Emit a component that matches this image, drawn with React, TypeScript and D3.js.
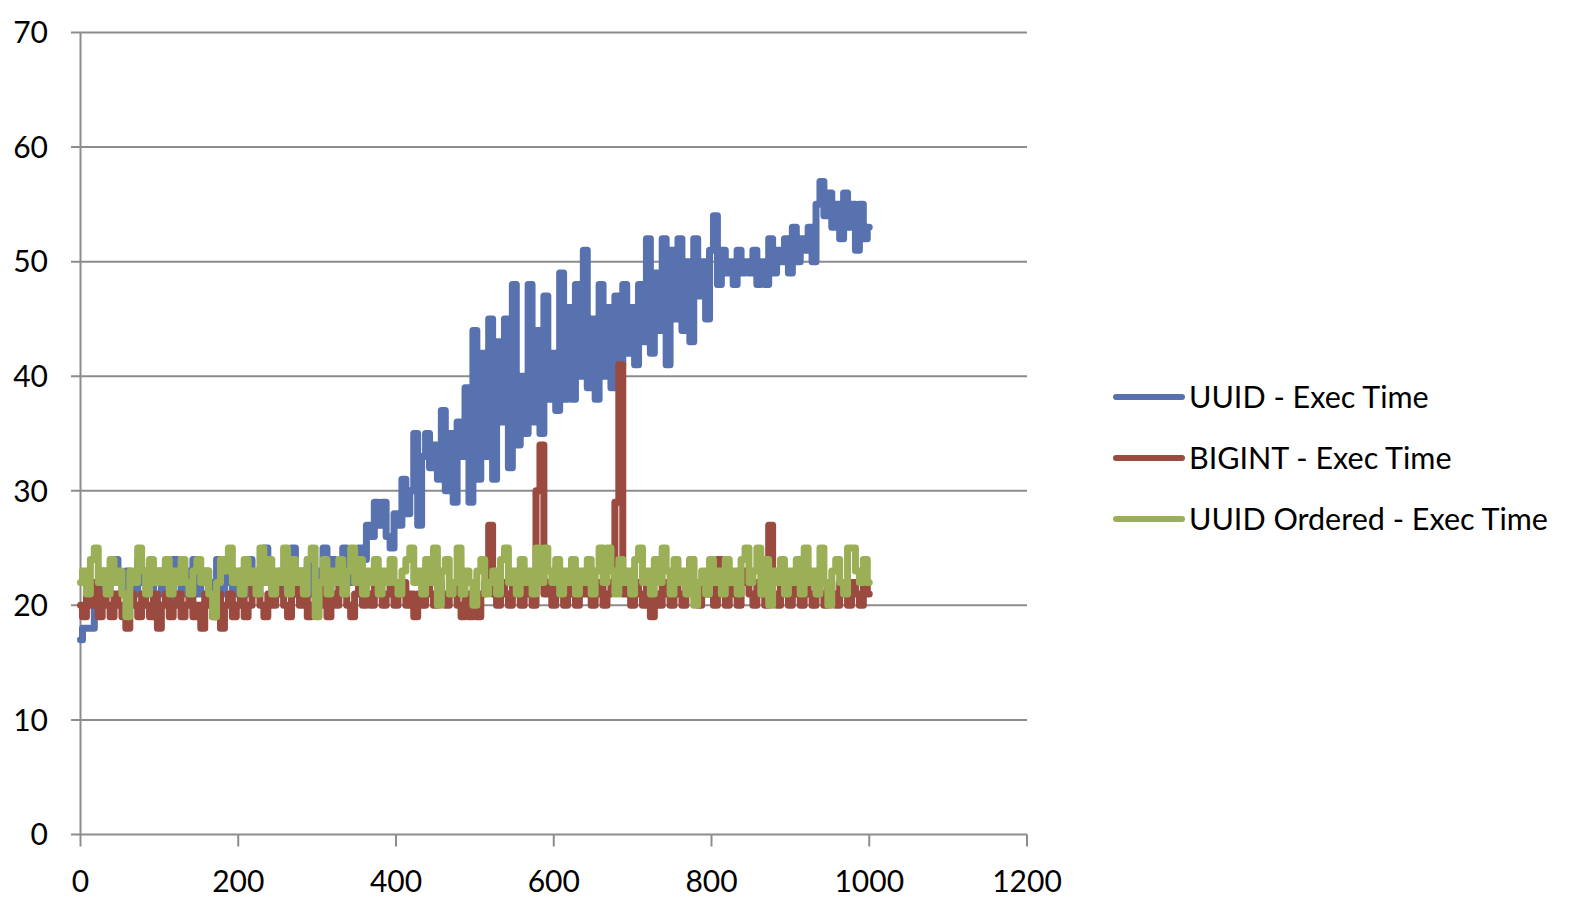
import React from 'react';
import * as d3 from 'd3';

const STEP = 5;

const uuidExec = [
  17, 18, 18, 18, 20, 21, 23, 21, 22, 24, 22, 21, 23, 22, 21, 24, 22, 23, 21, 22,
  23, 21, 22, 20, 24, 22, 21, 23, 22, 24, 21, 22, 23, 21, 22, 24, 21, 23, 22, 21,
  22, 23, 21, 24, 22, 21, 23, 25, 22, 21, 22, 23, 21, 22, 25, 21, 23, 22, 24, 21,
  22, 23, 25, 21, 24, 22, 23, 25, 23, 22, 24, 25, 24, 27, 26, 29, 27, 29, 26, 25,
  28, 27, 31, 28, 30, 35, 27, 33, 35, 32, 34, 31, 37, 30, 35, 29, 36, 33, 39, 29,
  44, 31, 42, 33, 45, 31, 43, 36, 45, 32, 48, 34, 40, 35, 48, 36, 44, 35, 47, 38,
  42, 37, 49, 38, 46, 38, 48, 40, 51, 39, 45, 38, 48, 40, 46, 39, 47, 41, 48, 42,
  46, 41, 48, 43, 52, 42, 49, 44, 52, 41, 51, 45, 52, 44, 50, 43, 52, 47, 50, 45,
  51, 54, 48, 51, 49, 50, 48, 51, 49, 50, 49, 51, 48, 50, 48, 52, 49, 51, 50, 52,
  49, 53, 50, 52, 51, 53, 50, 55, 57, 54, 56, 53, 55, 52, 56, 53, 55, 51, 55, 52,
  53,
];

const bigintExec = [
  20, 19, 21, 20, 22, 19, 21, 20, 19, 21, 20, 19, 18, 21, 20, 19, 21, 20, 19, 21,
  18, 20, 21, 19, 20, 21, 19, 20, 21, 19, 20, 18, 21, 20, 19, 21, 18, 20, 21, 19,
  20, 21, 19, 20, 22, 21, 20, 19, 21, 20, 22, 21, 20, 19, 21, 22, 20, 21, 19, 20,
  21, 20, 22, 19, 21, 20, 22, 21, 20, 19, 21, 22, 20, 21, 20, 22, 21, 20, 21, 22,
  20, 21, 22, 20, 21, 19, 21, 20, 22, 21, 20, 22, 21, 20, 21, 22, 20, 19, 21, 19,
  20, 19, 21, 22, 27, 21, 20, 22, 21, 20, 22, 21, 20, 22, 21, 20, 30, 34, 21, 22,
  20, 22, 21, 20, 22, 21, 20, 22, 21, 22, 20, 21, 22, 20, 21, 22, 29, 41, 21, 22,
  20, 22, 21, 20, 22, 19, 21, 20, 22, 21, 20, 22, 21, 20, 22, 24, 21, 20, 22, 21,
  22, 20, 24, 21, 20, 22, 21, 20, 22, 23, 21, 20, 22, 21, 20, 27, 21, 20, 22, 21,
  20, 22, 21, 20, 22, 21, 20, 22, 21, 20, 22, 21, 20, 22, 21, 20, 22, 21, 20, 22,
  21,
];

const uuidOrderedExec = [
  22, 23, 21, 24, 25, 22, 23, 21, 24, 22, 23, 21, 19, 23, 22, 25, 23, 21, 24, 22,
  23, 22, 24, 21, 23, 22, 24, 22, 21, 23, 24, 22, 23, 21, 19, 22, 24, 23, 25, 22,
  23, 21, 24, 22, 23, 21, 25, 22, 24, 21, 23, 22, 25, 21, 24, 22, 23, 21, 24, 25,
  19, 22, 24, 21, 23, 22, 24, 21, 23, 25, 22, 24, 21, 23, 22, 24, 21, 23, 22, 24,
  22, 21, 23, 24, 25, 22, 23, 21, 24, 22, 25, 20, 23, 24, 21, 22, 25, 21, 23, 22,
  20, 23, 24, 21, 22, 23, 21, 24, 25, 22, 23, 21, 24, 22, 23, 21, 25, 22, 25, 23,
  22, 24, 21, 23, 22, 24, 21, 23, 22, 24, 21, 23, 25, 22, 25, 23, 21, 24, 22, 23,
  21, 24, 25, 22, 23, 21, 24, 22, 25, 23, 21, 24, 22, 23, 21, 24, 20, 22, 23, 21,
  24, 22, 23, 21, 24, 22, 23, 21, 24, 25, 22, 23, 25, 21, 24, 20, 23, 22, 24, 21,
  23, 22, 24, 21, 25, 22, 23, 21, 25, 22, 20, 23, 24, 22, 21, 25, 25, 23, 22, 24,
  22,
];

const seriesNames = ['UUID - Exec Time', 'BIGINT - Exec Time', 'UUID Ordered - Exec Time'];
const seriesColors = ['#5872b0', '#9a4a3e', '#9aaf56'];
const xTicks = [0, 200, 400, 600, 800, 1000, 1200];
const yTicks = [0, 10, 20, 30, 40, 50, 60, 70];

const W = 1572;
const H = 906;
const FONT = 'Lato, "Open Sans", sans-serif';
const GRID = '#8c8c8c';

export default function App() {
  const x = d3.scaleLinear().domain([0, 1200]).range([80.5, 1027]);
  const y = d3.scaleLinear().domain([0, 70]).range([834.5, 32.5]);

  // integer-valued dense samples read as plateaus with sharp jumps
  const line = d3
    .line<number>()
    .x((_, i) => x(i * STEP))
    .y((d) => y(d))
    .curve(d3.curveStep);

  const allSeries = [uuidExec, bigintExec, uuidOrderedExec];

  return (
    <div style={{ position: 'absolute', left: 0, top: 0 }}>
      <svg width={W} height={H} style={{ display: 'block', background: '#fff' }}>
        {/* horizontal gridlines + y ticks */}
        {yTicks.map((t) => (
          <g key={t}>
            <line x1={71} x2={1027} y1={y(t)} y2={y(t)} stroke={GRID} strokeWidth={2} />
            <text
              x={48}
              y={y(t)}
              dy="0.36em"
              textAnchor="end"
              fontFamily={FONT}
              fontSize={30}
              fill="#000"
            >
              {t}
            </text>
          </g>
        ))}
        {/* y axis line */}
        <line x1={x(0)} x2={x(0)} y1={y(70)} y2={y(0)} stroke={GRID} strokeWidth={2} />
        {/* x ticks */}
        {xTicks.map((t) => (
          <g key={t}>
            <line x1={x(t)} x2={x(t)} y1={y(0)} y2={y(0) + 12} stroke={GRID} strokeWidth={2} />
            <text
              x={x(t)}
              y={892}
              textAnchor="middle"
              fontFamily={FONT}
              fontSize={30}
              fill="#000"
            >
              {t}
            </text>
          </g>
        ))}
        {/* series */}
        {allSeries.map((s, i) => (
          <path
            key={i}
            d={line(s) || ''}
            fill="none"
            stroke={seriesColors[i]}
            strokeWidth={7}
            strokeLinejoin="round"
            strokeLinecap="round"
          />
        ))}
        {/* legend */}
        {seriesNames.map((name, i) => {
          const ly = 397 + i * 61;
          return (
            <g key={name}>
              <line
                x1={1116}
                x2={1182}
                y1={ly}
                y2={ly}
                stroke={seriesColors[i]}
                strokeWidth={6}
                strokeLinecap="round"
              />
              <text
                x={1189}
                y={ly}
                dy="0.36em"
                fontFamily={FONT}
                fontSize={30.5}
                fill="#000"
              >
                {name}
              </text>
            </g>
          );
        })}
      </svg>
    </div>
  );
}
